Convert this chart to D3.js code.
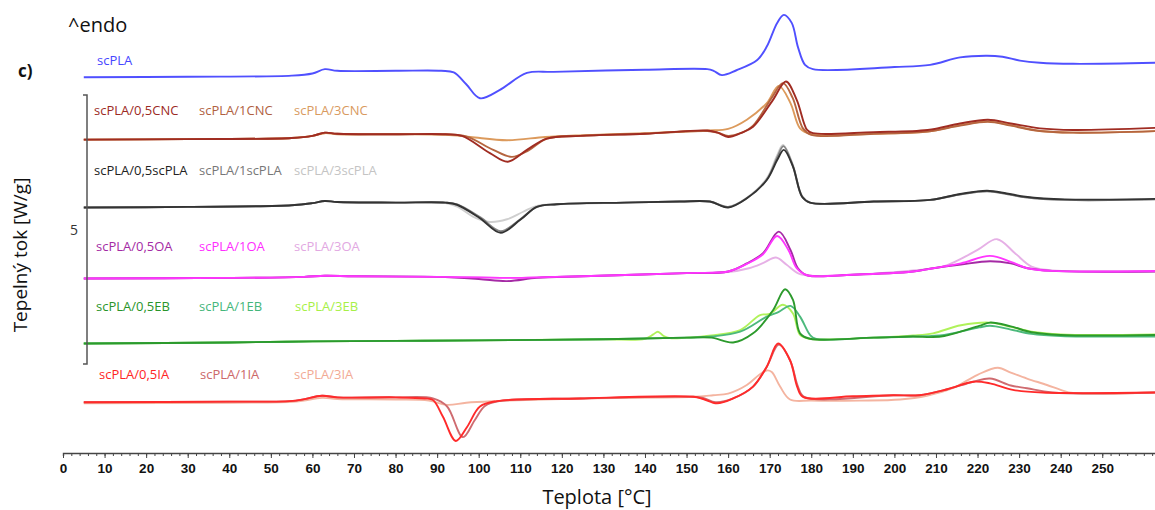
<!DOCTYPE html>
<html>
<head>
<meta charset="utf-8">
<script src="https://cdn.jsdelivr.net/npm/d3@7"></script>
<style>
  body { margin: 0; background: #fff; }
  svg { display: block; }
</style>
</head>
<body>
<div id="chart"></div>
<script>
// Temperature [°C] vs heat flow [W/g] (curves already shifted as in the figure)
const tempTicks = d3.range(0, 251, 10);
const minorTicks = d3.range(0, 263, 2);

const scPLA = [[5, 5.33], [30, 5.34], [55, 5.36], [60, 5.40], [63, 5.48], [66, 5.45], [80, 5.45], [91, 5.45], [94, 5.42], [97, 5.2], [100.3, 4.94], [105, 5.09], [111.6, 5.41], [118, 5.43], [140, 5.47], [155, 5.48], [156.5, 5.45], [158.5, 5.37], [162, 5.46], [167, 5.65], [169.3, 5.90], [171.8, 6.34], [173.4, 6.49], [175.3, 6.34], [176.8, 5.89], [178.5, 5.56], [180.4, 5.48], [200, 5.52], [208.6, 5.56], [215.8, 5.70], [222.3, 5.73], [226, 5.71], [230.2, 5.64], [235, 5.60], [243, 5.58], [263, 5.60]];

const cnc05 = [[5, 4.17], [30, 4.18], [55, 4.2], [60, 4.24], [63, 4.30], [66, 4.28], [80, 4.27], [92, 4.27], [96, 4.24], [102.7, 3.92], [107, 3.76], [111.6, 3.98], [116.4, 4.19], [124.4, 4.24], [140, 4.28], [155, 4.34], [157.5, 4.3], [160, 4.22], [163, 4.29], [166, 4.41], [170.8, 4.91], [173.9, 5.25], [176.5, 4.91], [179, 4.35], [180.4, 4.29], [195, 4.31], [208, 4.35], [215.8, 4.47], [222.5, 4.54], [228, 4.47], [235, 4.38], [243, 4.35], [263, 4.39]];
const cnc1 = [[5, 4.17], [30, 4.18], [55, 4.2], [60, 4.24], [63, 4.30], [66, 4.28], [80, 4.27], [92, 4.27], [97, 4.23], [103.5, 3.98], [108, 3.85], [112, 3.97], [116.4, 4.19], [124.4, 4.24], [140, 4.28], [155, 4.33], [157.5, 4.3], [160, 4.24], [163, 4.29], [166, 4.43], [170.5, 4.95], [173.2, 5.22], [175.5, 4.95], [178, 4.38], [180, 4.26], [195, 4.28], [208, 4.32], [215.8, 4.43], [222.5, 4.50], [228, 4.43], [235, 4.33], [243, 4.30], [263, 4.33]];
const cnc3 = [[5, 4.17], [30, 4.18], [55, 4.2], [60, 4.24], [63, 4.29], [66, 4.27], [80, 4.27], [92, 4.26], [98, 4.22], [106.8, 4.16], [116, 4.22], [124, 4.25], [140, 4.29], [155, 4.34], [160, 4.37], [164.5, 4.54], [169.3, 4.85], [172.2, 5.17], [175, 4.85], [177.3, 4.38], [180, 4.27], [195, 4.28], [208, 4.32], [215.8, 4.44], [222.5, 4.51], [228, 4.44], [235, 4.33], [243, 4.30], [263, 4.33]];

const spla05 = [[5, 2.91], [30, 2.92], [55, 2.95], [60, 2.99], [63, 3.03], [66, 3.01], [80, 3.0], [92, 3.0], [94.8, 2.96], [100.3, 2.71], [105.3, 2.44], [110, 2.68], [114, 2.92], [118.8, 2.97], [135, 3.0], [148.4, 3.02], [155.6, 3.02], [160, 2.91], [164.5, 3.08], [169.3, 3.42], [171.8, 3.79], [173.4, 3.98], [175.6, 3.67], [177.8, 3.11], [179.7, 3.00], [195, 3.02], [208.6, 3.05], [215.8, 3.16], [222.3, 3.22], [227, 3.17], [231.5, 3.11], [241, 3.06], [263, 3.07]];
const spla1 = [[5, 2.91], [30, 2.92], [55, 2.95], [60, 2.99], [63, 3.03], [66, 3.01], [80, 3.0], [92, 3.0], [95, 2.96], [100.5, 2.72], [105.3, 2.47], [110, 2.69], [114, 2.92], [118.8, 2.97], [135, 3.0], [148.4, 3.02], [155.6, 3.02], [160, 2.92], [164.5, 3.08], [169.3, 3.43], [171.8, 3.84], [173.3, 4.05], [175.5, 3.70], [177.8, 3.11], [179.7, 3.00], [195, 3.02], [208.6, 3.05], [215.8, 3.15], [222.3, 3.21], [227, 3.16], [231.5, 3.10], [241, 3.05], [263, 3.06]];
const spla3 = [[5, 2.91], [30, 2.92], [55, 2.95], [60, 2.99], [63, 3.03], [66, 3.01], [80, 3.0], [92, 2.99], [95, 2.92], [98.6, 2.74], [102.7, 2.64], [106.8, 2.69], [110.7, 2.83], [114, 2.94], [118.8, 2.97], [135, 3.0], [148.4, 3.02], [155.6, 3.02], [160, 2.92], [164.5, 3.09], [169.3, 3.45], [171.8, 3.88], [173.2, 4.07], [175.5, 3.72], [177.8, 3.12], [179.7, 3.00], [195, 3.02], [208.6, 3.05], [215.8, 3.15], [222.3, 3.21], [227, 3.16], [231.5, 3.10], [241, 3.05], [263, 3.06]];

const oa05 = [[5, 1.59], [40, 1.60], [58, 1.62], [63, 1.64], [70, 1.63], [90, 1.62], [100, 1.58], [106.8, 1.54], [114, 1.60], [125, 1.63], [150, 1.69], [160, 1.72], [164.5, 1.87], [168.4, 2.06], [172.2, 2.46], [175, 2.12], [176.8, 1.78], [179, 1.65], [190, 1.66], [204.5, 1.72], [209.3, 1.78], [216, 1.85], [223, 1.91], [228, 1.87], [232, 1.78], [238, 1.73], [263, 1.72]];
const oa1 = [[5, 1.59], [40, 1.60], [58, 1.62], [63, 1.64], [70, 1.63], [90, 1.62], [100, 1.61], [107, 1.60], [114, 1.61], [125, 1.63], [150, 1.69], [160, 1.72], [164.5, 1.86], [168.4, 2.04], [171.8, 2.38], [174.5, 2.12], [176.5, 1.78], [179, 1.65], [190, 1.66], [204.5, 1.72], [209.3, 1.78], [216, 1.87], [223, 2.01], [228, 1.90], [232, 1.78], [238, 1.73], [263, 1.73]];
const oa3 = [[5, 1.59], [40, 1.60], [58, 1.62], [63, 1.64], [70, 1.63], [90, 1.62], [100, 1.61], [107, 1.60], [114, 1.61], [125, 1.63], [150, 1.69], [160, 1.71], [165, 1.78], [168.5, 1.88], [171.5, 1.98], [174, 1.85], [177, 1.68], [180, 1.64], [190, 1.66], [204.5, 1.74], [212, 1.82], [220, 2.12], [224.7, 2.32], [229, 2.06], [233, 1.81], [238, 1.74], [263, 1.72]];

const eb05 = [[5, 0.38], [40, 0.40], [60, 0.42], [80, 0.43], [100, 0.44], [130, 0.46], [150, 0.49], [156, 0.49], [161.2, 0.40], [166, 0.57], [170.8, 1.00], [173.7, 1.39], [175.6, 1.19], [177.3, 0.57], [179.7, 0.47], [195, 0.49], [204.5, 0.51], [209, 0.50], [212, 0.52], [220.4, 0.71], [223, 0.77], [228, 0.70], [233, 0.59], [240, 0.54], [263, 0.54]];
const eb1 = [[5, 0.38], [40, 0.40], [60, 0.42], [80, 0.43], [100, 0.44], [130, 0.46], [150, 0.49], [156, 0.51], [162.9, 0.60], [169.3, 0.88], [172.2, 0.97], [175, 1.08], [177.3, 0.88], [179.7, 0.54], [181, 0.47], [195, 0.49], [204.5, 0.51], [212, 0.54], [220.4, 0.68], [223, 0.71], [228, 0.64], [233, 0.56], [240, 0.52], [263, 0.51]];
const eb3 = [[5, 0.38], [40, 0.40], [60, 0.42], [80, 0.43], [100, 0.44], [130, 0.46], [140, 0.47], [142, 0.55], [143.1, 0.60], [144.5, 0.52], [146, 0.48], [150, 0.49], [156, 0.53], [162.9, 0.63], [167.7, 0.91], [170, 0.93], [173.2, 1.10], [175.6, 0.94], [177.3, 0.54], [179.5, 0.47], [195, 0.49], [204.5, 0.53], [209.3, 0.57], [216, 0.72], [223, 0.77], [228, 0.69], [233, 0.60], [240, 0.55], [263, 0.55]];

const ia05 = [[5, -0.71], [40, -0.70], [56, -0.68], [62.3, -0.59], [66, -0.62], [80, -0.62], [87, -0.64], [89, -0.67], [91.4, -0.98], [94.5, -1.43], [97.2, -1.17], [100.3, -0.79], [104.4, -0.69], [124.4, -0.64], [151.6, -0.61], [154, -0.65], [157.3, -0.73], [161.2, -0.64], [166, -0.42], [169.3, -0.05], [172, 0.38], [174.9, 0.07], [176.6, -0.42], [178, -0.61], [190, -0.6], [199.7, -0.58], [206, -0.58], [212.7, -0.47], [219, -0.33], [223, -0.36], [228.5, -0.48], [235.7, -0.53], [263, -0.53]];
const ia1 = [[5, -0.71], [40, -0.70], [56, -0.68], [62.3, -0.59], [66, -0.62], [80, -0.62], [89, -0.64], [92.4, -0.79], [96.2, -1.36], [99, -1.05], [101.5, -0.78], [105, -0.69], [124.4, -0.64], [151.6, -0.61], [154, -0.63], [157, -0.71], [161.2, -0.64], [166, -0.42], [169.3, -0.05], [172.2, 0.36], [175, 0.05], [176.8, -0.42], [178.3, -0.61], [199.7, -0.58], [206, -0.58], [212.7, -0.47], [219, -0.33], [223, -0.27], [228, -0.40], [231.9, -0.45], [238, -0.53], [263, -0.53]];
const ia3 = [[5, -0.73], [40, -0.72], [56, -0.70], [62.3, -0.63], [66, -0.65], [80, -0.66], [88, -0.68], [92.4, -0.76], [97, -0.72], [104.4, -0.69], [124.4, -0.64], [151.6, -0.61], [156.4, -0.58], [160, -0.55], [164.5, -0.39], [167.5, -0.2], [169.3, -0.12], [170.5, -0.15], [172.5, -0.42], [174.9, -0.66], [180, -0.68], [191.7, -0.68], [201.4, -0.66], [207.8, -0.59], [214, -0.45], [220, -0.20], [224.9, -0.07], [228, -0.16], [231.9, -0.27], [236.7, -0.39], [240, -0.48], [243, -0.54], [263, -0.53]];

// label rows (one per group)
const labelRows = [
  ["scPLA"],
  ["scPLA/0,5CNC", "scPLA/1CNC", "scPLA/3CNC"],
  ["scPLA/0,5scPLA", "scPLA/1scPLA", "scPLA/3scPLA"],
  ["scPLA/0,5OA", "scPLA/1OA", "scPLA/3OA"],
  ["scPLA/0,5EB", "scPLA/1EB", "scPLA/3EB"],
  ["scPLA/0,5IA", "scPLA/1IA", "scPLA/3IA"]
];
const labelColors = [
  ["#4646ff"],
  ["#9c2a24", "#b0613f", "#d99a5e"],
  ["#222222", "#777777", "#c4c4c4"],
  ["#a42aa4", "#ff2cff", "#e2a8e2"],
  ["#2a942a", "#44b67a", "#a6f046"],
  ["#ff2424", "#cc6868", "#f2aa94"]
];

// draw order: lighter ones first so darker ones sit on top
const series = [
  { data: scPLA, color: "#5050ff" },
  { data: cnc3, color: "#dc9a5c" }, { data: cnc1, color: "#b5653f" }, { data: cnc05, color: "#a02c22" },
  { data: spla3, color: "#cfcfcf" }, { data: spla1, color: "#858585" }, { data: spla05, color: "#333333" },
  { data: oa3, color: "#e6b0e6" }, { data: oa05, color: "#a52aa5" }, { data: oa1, color: "#ff36ff" },
  { data: eb3, color: "#b0f25a" }, { data: eb1, color: "#4cb97c" }, { data: eb05, color: "#2c9a2c" },
  { data: ia3, color: "#f4b4a0" }, { data: ia1, color: "#cf6b70" }, { data: ia05, color: "#ff2a2a" }
];

const W = 1155, H = 510;
const svg = d3.select("#chart").append("svg")
  .attr("width", W)
  .attr("height", H);

const x = d3.scaleLinear().domain([0, 263]).range([63, 63 + 263 * 4.157]);
const y = d3.scaleLinear().domain([0, 5]).range([364, 95]);

const line = d3.line()
  .x(d => x(d[0]))
  .y(d => y(d[1]))
  .curve(d3.curveCatmullRom.alpha(0.5));

// Curves
svg.append("g")
  .selectAll("path")
  .data(series)
  .enter()
  .append("path")
  .attr("d", d => line(d.data))
  .attr("fill", "none")
  .attr("stroke", d => d.color)
  .attr("stroke-width", 1.9)
  .attr("stroke-linejoin", "round");

// X axis (minor ticks every 2, major every 10)
const axisY = 453;
svg.append("g")
  .attr("transform", `translate(0,${axisY})`)
  .call(d3.axisBottom(x).tickValues(minorTicks).tickSize(3).tickFormat(""))
  .call(g => g.select(".domain").attr("stroke", "#444").attr("stroke-width", 1.4))
  .call(g => g.selectAll(".tick line").attr("stroke", "#444"));

svg.append("g")
  .attr("transform", `translate(0,${axisY})`)
  .call(d3.axisBottom(x).tickValues(tempTicks).tickSize(5).tickPadding(5).tickFormat(d3.format("d")))
  .call(g => g.select(".domain").remove())
  .call(g => g.selectAll(".tick line").attr("stroke", "#444"))
  .call(g => g.selectAll(".tick text")
    .attr("fill", "#111")
    .style("font-family", "'Liberation Sans', Arial, sans-serif")
    .style("font-weight", "bold")
    .style("font-size", "13.5px"));

// Axis titles
svg.append("text")
  .attr("x", 597)
  .attr("y", 504)
  .attr("text-anchor", "middle")
  .style("font-family", "'Open Sans', sans-serif")
  .style("font-size", "20px")
  .attr("fill", "#111")
  .text("Teplota [°C]");

svg.append("text")
  .attr("transform", "translate(27,255) rotate(-90)")
  .attr("text-anchor", "middle")
  .style("font-family", "'Open Sans', sans-serif")
  .style("font-size", "19px")
  .attr("fill", "#111")
  .text("Tepelný tok [W/g]");

// Scale bar: 5 W/g
const bar = svg.append("g").attr("stroke", "#555").attr("stroke-width", 1.5).attr("fill", "none");
bar.append("path")
  .attr("d", `M83,${y(5)}H87V${y(0)}H83`);
svg.append("text")
  .attr("x", 74)
  .attr("y", (y(0) + y(5)) / 2 + 5)
  .attr("text-anchor", "middle")
  .style("font-family", "'Open Sans', sans-serif")
  .style("font-size", "14px")
  .attr("fill", "#333")
  .text("5");

// ^endo and panel letter
svg.append("text")
  .attr("x", 68)
  .attr("y", 32)
  .style("font-family", "'Open Sans', sans-serif")
  .style("font-size", "20px")
  .attr("fill", "#111")
  .text("^endo");

svg.append("text")
  .attr("x", 18)
  .attr("y", 77)
  .style("font-family", "'Open Sans', sans-serif")
  .style("font-weight", "bold")
  .style("font-size", "17px")
  .attr("fill", "#111")
  .text("c)");

// Sample labels
const rowY = [65, 115, 175, 251, 311, 379];
const colX = [[97], [94, 199, 294], [94, 199, 294], [96, 199, 294], [96, 199, 295], [99, 200, 294]];
labelRows.forEach((row, i) => {
  row.forEach((name, j) => {
    svg.append("text")
      .attr("x", colX[i][j])
      .attr("y", rowY[i])
      .style("font-family", "'Open Sans', sans-serif")
      .style("font-size", "13px")
      .attr("fill", labelColors[i][j])
      .text(name);
  });
});
</script>
</body>
</html>
